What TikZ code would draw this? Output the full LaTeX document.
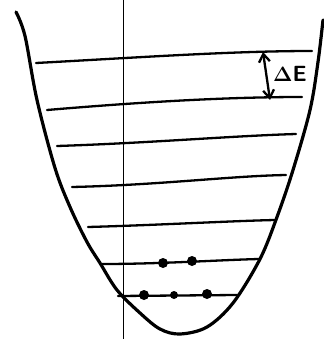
\documentclass[tikz,border=0pt]{standalone}
\usetikzlibrary{arrows.meta}
\begin{document}
\begin{tikzpicture}[x=1pt,y=-1pt,
  well/.style={line width=3.2pt,line cap=round,line join=round},
  level/.style={line width=2.3pt,line cap=round},
  axis/.style={line width=0.8pt},
  electron/.style={circle,fill=black,inner sep=0pt,minimum size=10pt},
  small electron/.style={circle,fill=black,inner sep=0pt,minimum size=8pt}]
\useasboundingbox (0,0) rectangle (323,339);
% vertical axis
\coordinate (vt) at (123,0);
\coordinate (vb) at (123,339);
\draw[axis] (vt) -- (vb);
% potential well
\draw[well] plot[smooth,tension=0.55] coordinates {(16,12) (25,36) (37,100) (55,168) (70,207) (87,242) (100,263) (117,290) (140,313) (160,329) (180,334) (207,327) (233,303) (260,259) (277,217) (293,170) (310,110) (318,62) (323,20)};
% energy levels
\draw[level] (36,63) .. controls (130,58) and (230,51) .. (312,51);
\draw[level] (47,110) .. controls (130,103) and (220,97) .. (302,97);
\draw[level] (57,146) .. controls (150,143) and (230,136) .. (296,134);
\draw[level] (72,187) .. controls (160,185) and (230,176) .. (286,175);
\draw[level] (88,227) .. controls (160,225) and (230,221) .. (275,220);
\draw[level] (102,264) .. controls (160,264) and (220,260) .. (259,259);
\draw[level] (118,296) -- (237,295);
% electrons
\node[electron] (e1) at (163,263) {};
\node[electron] (e2) at (192,261) {};
\node[electron] (e3) at (144,295) {};
\node[small electron] (e4) at (174,295) {};
\node[electron] (e5) at (207,294) {};
% Delta E
\coordinate (dEt) at (263,52);
\coordinate (dEb) at (270,100);
\draw[line width=2.3pt,{Straight Barb[length=8pt,width=11pt]}-{Straight Barb[length=8pt,width=11pt]}] (dEt) -- (dEb);
\node[font=\sffamily\bfseries\fontsize{22}{22}\selectfont,inner sep=0pt] (dE) at (290,74) {$\mathbf{\Delta}$E};
\end{tikzpicture}
\end{document}
